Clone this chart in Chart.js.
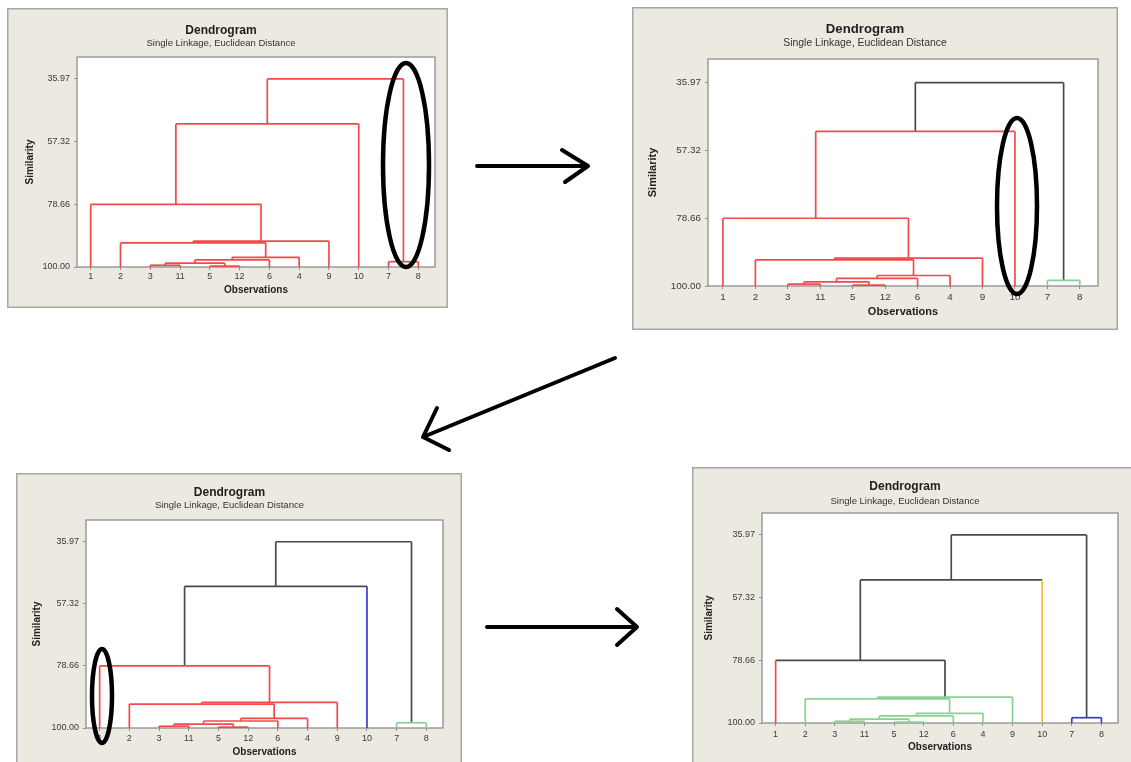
<!DOCTYPE html>
<html><head><meta charset="utf-8">
<script src="https://cdn.jsdelivr.net/npm/chart.js@4.4.0/dist/chart.umd.min.js"></script>
<style>
html,body{margin:0;padding:0;background:#fff;width:1131px;height:762px;overflow:hidden;position:relative;}
canvas{position:absolute;}
</style></head><body>
<canvas id="arrows" width="1131" height="762" style="left:0;top:0"></canvas>
<script>
// ---------- data ----------
const leafLabels = ['1','2','3','11','5','12','6','4','9','10','7','8'];
const similarityTicks = [35.97, 57.32, 78.66, 100.00];
// single-linkage merges: node ids 0..11 are leaves (in plotted order), merge k creates node 12+k
const mergeLeft       = [2,    4,    12,   14,   15,   10,   1,    18,   0,     20,   21];
const mergeRight      = [3,    5,    13,   6,    7,    11,   16,   8,    19,    9,    17];
const mergeSimilarity = [99.4, 99.7, 98.7, 97.6, 96.7, 98.2, 91.8, 91.2, 78.66, 51.3, 35.97];
const titleText = 'Dendrogram';
const subtitleText = 'Single Linkage, Euclidean Distance';
const xTitleText = 'Observations';
const yTitleText = 'Similarity';

// ---------- styles ----------
const COLORS = {R:'#f24a4a', G:'#86d394', B:'#3a3ad0', O:'#f4b844', K:'#4a4a4a'};
const FONT = "'Liberation Sans', Arial, sans-serif";
Chart.defaults.font.family = FONT;

const PANELS = [
  {box:[7,8,441,300], plot:[77,57,435,267], titleY:31, subY:43, yTitleX:30, xTitleY:290, xLabelY:277, s:1.0,
   stems:'RRRRRRRRRRRR'+'RRRRRRRRRR', bars:'RRRRRRRRRRR', ellipse:{cx:406,cy:165,rx:23,ry:102}},
  {box:[632,7,486,323], plot:[708,59,1098,286], titleY:29, subY:43, yTitleX:653, xTitleY:312, xLabelY:297, s:1.1,
   stems:'RRRRRRRRRRGG'+'RRRRRKRRRK', bars:'RRRRRGRRRRK', ellipse:{cx:1017,cy:206,rx:20,ry:88}},
  {box:[16,473,446,300], plot:[86,520,443,728], titleY:493, subY:505, yTitleX:37, xTitleY:752, xLabelY:739, s:1.0,
   stems:'RRRRRRRRRBGG'+'RRRRRKRRKK', bars:'RRRRRGRRRKK', ellipse:{cx:102,cy:696,rx:10,ry:47}},
  {box:[692,467,450,310], plot:[762,513,1118,723], titleY:487, subY:501, yTitleX:709, xTitleY:747, xLabelY:735, s:1.0,
   stems:'RGGGGGGGGOBB'+'GGGGGKGKKK', bars:'GGGGGBGGKKK', ellipse:null}
];

// ---------- tree geometry (in data units) ----------
const nLeaves = leafLabels.length;
const nodeX = leafLabels.map((_, i) => i);
const nodeLevel = leafLabels.map(() => 100);
mergeLeft.forEach((l, k) => {
  nodeX.push((nodeX[l] + nodeX[mergeRight[k]]) / 2);
  nodeLevel.push(mergeSimilarity[k]);
});
function parentLevel(n) {
  for (let k = 0; k < mergeLeft.length; k++) {
    if (mergeLeft[k] === n || mergeRight[k] === n) return mergeSimilarity[k];
  }
  return null;
}

function buildDatasets(p) {
  const ds = [];
  const mk = (pts, c) => ({data: pts, borderColor: COLORS[c], borderWidth: 1.7, pointRadius: 0,
    tension: 0, clip: false, order: c === 'K' ? 2 : 1});
  for (let n = 0; n < nodeX.length - 1; n++) {
    const pl = parentLevel(n);
    ds.push(mk([{x: nodeX[n], y: nodeLevel[n]}, {x: nodeX[n], y: pl}], p.stems[n]));
  }
  mergeLeft.forEach((l, k) => {
    ds.push(mk([{x: nodeX[l], y: mergeSimilarity[k]}, {x: nodeX[mergeRight[k]], y: mergeSimilarity[k]}], p.bars[k]));
  });
  return ds;
}

const framePlugin = {
  id: 'frame',
  beforeDraw(chart) {
    const {ctx, width, height, chartArea: a} = chart;
    ctx.save();
    ctx.fillStyle = '#ece9e1'; ctx.fillRect(0, 0, width, height);
    ctx.strokeStyle = '#a6a6a6'; ctx.lineWidth = 1.5; ctx.strokeRect(0.75, 0.75, width - 1.5, height - 1.5);
    ctx.fillStyle = '#ffffff'; ctx.fillRect(a.left, a.top, a.right - a.left, a.bottom - a.top);
    ctx.strokeStyle = '#8e8e8e'; ctx.lineWidth = 1.3; ctx.strokeRect(a.left, a.top, a.right - a.left, a.bottom - a.top);
    ctx.restore();
  },
  afterDraw(chart, args, opts) {
    const e = opts.ellipse;
    if (!e) return;
    const ctx = chart.ctx;
    ctx.save();
    ctx.strokeStyle = '#000'; ctx.lineWidth = 4.5;
    ctx.beginPath();
    ctx.ellipse(e.cx - opts.bx, e.cy - opts.by, e.rx, e.ry, 0, 0, Math.PI * 2);
    ctx.stroke();
    ctx.restore();
  }
};

function makePanel(p) {
  const [bx, by, bw, bh] = p.box;
  const [pl, pt, pr, pb] = p.plot;
  const cv = document.createElement('canvas');
  cv.width = bw; cv.height = bh;
  cv.style.left = bx + 'px'; cv.style.top = by + 'px';
  document.body.appendChild(cv);
  const s = p.s;
  const fT = 12 * s, fS = 9.5 * s, fA = 10 * s, fK = 9 * s;
  const cT = p.titleY - by, cS = p.subY - by, top = pt - by;
  const titlePad = {top: cT - fT / 2, bottom: 0};
  const subTop = Math.max(0, cS - (cT + fT / 2) - fS / 2);
  const subPad = {top: subTop, bottom: Math.max(0, top - (cT + fT / 2) - subTop - fS)};
  const yWidth = pl - bx;
  const xHeight = bh - (pb - by);
  const tickLen = 3;
  const xLabPad = Math.max(0, (p.xLabelY - pb) - tickLen - fK * 1.2 / 2);
  const xTitlePad = {top: 0, bottom: bh - (p.xTitleY - by) - fA / 2};
  const yTitlePad = {top: (p.yTitleX - bx) - fA / 2, bottom: 0};

  new Chart(cv, {
    type: 'line',
    data: {datasets: buildDatasets(p)},
    plugins: [framePlugin],
    options: {
      responsive: false, animation: false, devicePixelRatio: 1, events: [],
      layout: {padding: {left: 0, top: 0, bottom: 0, right: bx + bw - pr}},
      plugins: {
        legend: {display: false}, tooltip: {enabled: false},
        title: {display: true, text: titleText, color: '#1e1e1e', padding: titlePad,
                font: {size: fT, weight: 'bold', lineHeight: 1}},
        subtitle: {display: true, text: subtitleText, color: '#333', padding: subPad,
                font: {size: fS, lineHeight: 1}},
        frame: {ellipse: p.ellipse, bx: bx, by: by}
      },
      scales: {
        x: {
          type: 'linear', min: -0.46, max: 11.56,
          afterFit: sc => { sc.height = xHeight; },
          afterBuildTicks: sc => { sc.ticks = leafLabels.map((_, i) => ({value: i})); },
          ticks: {callback: v => leafLabels[v], color: '#3a3a3a', font: {size: fK}, padding: xLabPad,
                  maxRotation: 0, autoSkip: false},
          grid: {drawOnChartArea: false, tickLength: tickLen, color: '#8e8e8e'},
          border: {display: false},
          title: {display: true, text: xTitleText, color: '#222', padding: xTitlePad,
                  font: {size: fA, weight: 'bold', lineHeight: 1}}
        },
        y: {
          type: 'linear', reverse: true, min: 28.5, max: 100,
          afterFit: sc => { sc.width = yWidth; },
          afterBuildTicks: sc => { sc.ticks = similarityTicks.map(v => ({value: v})); },
          ticks: {callback: v => Number(v).toFixed(2), color: '#3a3a3a', font: {size: fK}, padding: 4},
          grid: {drawOnChartArea: false, tickLength: tickLen, color: '#8e8e8e'},
          border: {display: false},
          title: {display: true, text: yTitleText, color: '#222', padding: yTitlePad,
                  font: {size: fA, weight: 'bold', lineHeight: 1}}
        }
      }
    }
  });
}
PANELS.forEach(makePanel);

// ---------- hand-drawn arrows between panels ----------
const ARROWS = [
  {from:[477,166], to:[588,166], head:[[562,150],[565,182]]},
  {from:[615,358], to:[423,437], head:[[437,408],[449,450]]},
  {from:[487,627], to:[637,627], head:[[617,609],[617,645]]}
];
(function drawArrows() {
  const ctx = document.getElementById('arrows').getContext('2d');
  ctx.strokeStyle = '#000'; ctx.lineWidth = 4; ctx.lineCap = 'round'; ctx.lineJoin = 'round';
  ARROWS.forEach(a => {
    ctx.beginPath();
    ctx.moveTo(a.from[0], a.from[1]); ctx.lineTo(a.to[0], a.to[1]);
    ctx.moveTo(a.head[0][0], a.head[0][1]); ctx.lineTo(a.to[0], a.to[1]); ctx.lineTo(a.head[1][0], a.head[1][1]);
    ctx.stroke();
  });
})();
</script>
</body></html>
